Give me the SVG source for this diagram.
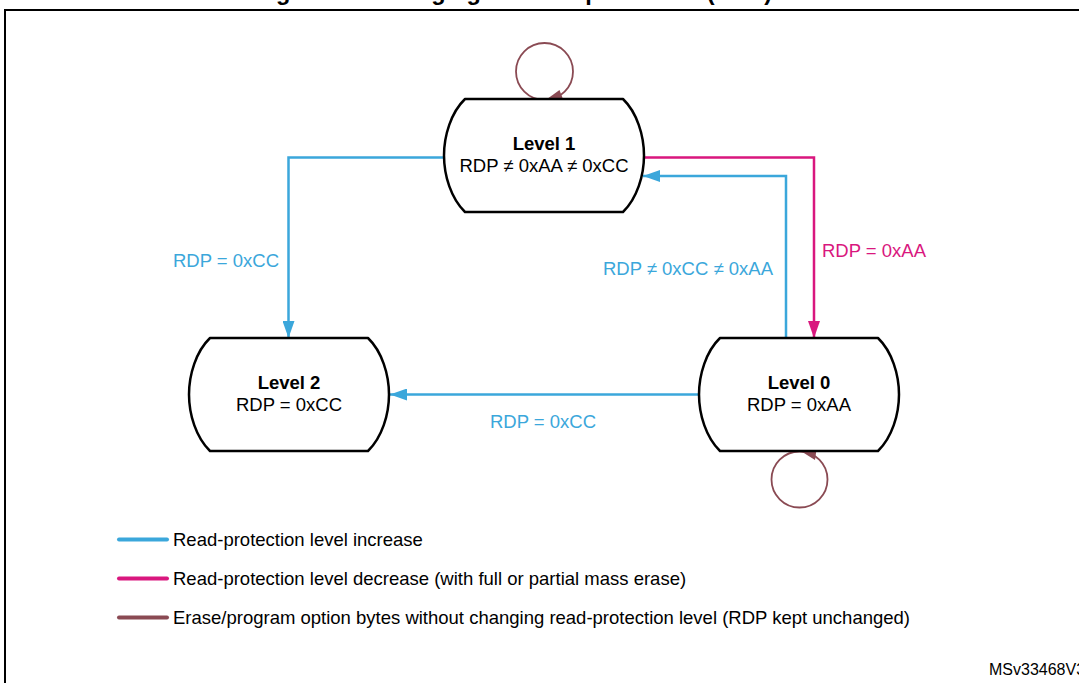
<svg xmlns="http://www.w3.org/2000/svg" width="1079" height="683" viewBox="0 0 1079 683">
<style>
  text { font-family: "Liberation Sans", Arial, sans-serif; font-size: 18.5px; }
  .title { font-weight: bold; font-size: 23.5px; fill: #000; }
  .lvl { font-weight: bold; fill: #000; text-anchor: middle; }
  .val { fill: #000; text-anchor: middle; }
  .node { fill: #fff; stroke: #000; stroke-width: 2.5; stroke-linejoin: round; }
  .blue { stroke: #3BA7DB; fill: none; stroke-width: 2.5; }
  .pink { stroke: #D9177E; fill: none; stroke-width: 2.5; }
  .brown { stroke: #8A4A53; fill: none; stroke-width: 1.8; }
  .lblue { fill: #3BA7DB; }
  .lpink { fill: #D9177E; }
  .leg { fill: #000; }
  .legline { stroke-width: 4; stroke-linecap: round; }
</style>
<defs>
  <path id="shape" d="M -79 -56.5 H 79 C 93 -43 100 -20 100 0 C 100 20 93 43 79 56.5 H -79 C -93 43 -100 20 -100 0 C -100 -20 -93 -43 -79 -56.5 Z"/>
  <marker id="aBlue" markerUnits="userSpaceOnUse" markerWidth="17" markerHeight="12" refX="17" refY="6" orient="auto">
    <path d="M0,0 L17,6 L0,12 Z" fill="#3BA7DB"/>
  </marker>
  <marker id="aPink" markerUnits="userSpaceOnUse" markerWidth="17" markerHeight="12" refX="17" refY="6" orient="auto">
    <path d="M0,0 L17,6 L0,12 Z" fill="#D9177E"/>
  </marker>
</defs>
<rect width="1079" height="683" fill="#fff"/>
<text class="title" x="255" y="-0.5">Figure 16. Changing the read protection (RDP) level</text>
<rect x="5" y="10" width="1100" height="700" fill="none" stroke="#000" stroke-width="2"/>

<g id="connectors">
  <path class="blue" d="M 444 157.5 H 288.5 V 338" marker-end="url(#aBlue)"/>
  <path class="pink" d="M 644 157.5 H 814 V 338" marker-end="url(#aPink)"/>
  <path class="blue" d="M 786 338 V 176 H 643" marker-end="url(#aBlue)"/>
  <path class="blue" d="M 699 394.5 H 390" marker-end="url(#aBlue)"/>
  <circle class="brown" cx="544.5" cy="71.5" r="28.5"/>
  <polygon points="545,100.5 559.5,90 563.5,100.5" fill="#8A4A53"/>
  <circle class="brown" cx="799.5" cy="479.5" r="28"/>
  <polygon points="801.5,451.5 816.5,449.5 815,460" fill="#8A4A53"/>
  <text class="lblue" x="279" y="267" text-anchor="end">RDP = 0xCC</text>
  <text class="lpink" x="822" y="256.5">RDP = 0xAA</text>
  <text class="lblue" x="773" y="274.5" text-anchor="end">RDP ≠ 0xCC ≠ 0xAA</text>
  <text class="lblue" x="490" y="427.5">RDP = 0xCC</text>
</g>

<g id="level1">
  <use href="#shape" class="node" transform="translate(544 155.5)"/>
  <text class="lvl" x="544" y="150">Level 1</text>
  <text class="val" x="544" y="172">RDP ≠ 0xAA ≠ 0xCC</text>
</g>
<g id="level2">
  <use href="#shape" class="node" transform="translate(289 394.5)"/>
  <text class="lvl" x="289" y="389">Level 2</text>
  <text class="val" x="289" y="411">RDP = 0xCC</text>
</g>
<g id="level0">
  <use href="#shape" class="node" transform="translate(799 394.5)"/>
  <text class="lvl" x="799" y="389">Level 0</text>
  <text class="val" x="799" y="411">RDP = 0xAA</text>
</g>

<g id="legend">
  <line class="legline" x1="119" y1="539.5" x2="167" y2="539.5" stroke="#3BA7DB"/>
  <text class="leg" x="173" y="546">Read-protection level increase</text>
  <line class="legline" x1="119" y1="578.5" x2="167" y2="578.5" stroke="#D9177E"/>
  <text class="leg" x="173" y="585">Read-protection level decrease (with full or partial mass erase)</text>
  <line class="legline" x1="119" y1="617.5" x2="167" y2="617.5" stroke="#8A4A53"/>
  <text class="leg" x="173" y="624">Erase/program option bytes without changing read-protection level (RDP kept unchanged)</text>
</g>
<text x="989" y="675" style="font-size:16px" fill="#000">MSv33468V3</text>
</svg>
